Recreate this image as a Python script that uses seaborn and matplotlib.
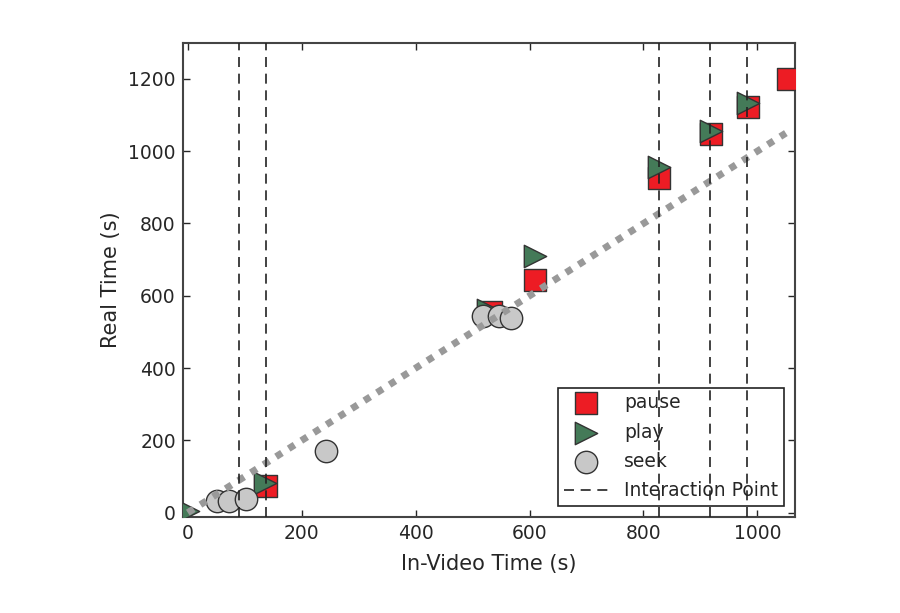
import matplotlib
matplotlib.use("Agg")
import matplotlib.pyplot as plt
import seaborn as sns
import pandas as pd

# ---- data ----
pause_x = [138, 533, 610, 828, 918, 983, 1053]
pause_y = [75, 554, 644, 927, 1047, 1122, 1201]
play_x = [0, 135, 527, 609, 828, 918, 983]
play_y = [4, 82, 562, 709, 955, 1056, 1132]
seek_x = [52, 73, 102, 242, 518, 546, 568]
seek_y = [31, 33, 39, 170, 544, 543, 539]
interaction_x = [89, 138, 828, 916, 982]
ideal_x = [0, 1050]
ideal_y = [0, 1050]
x_ticks = [0, 200, 400, 600, 800, 1000]
y_ticks = [0, 200, 400, 600, 800, 1000, 1200]

sns.set_style("ticks")
plt.rcParams["font.family"] = ["DejaVu Sans"]
text_color = "#262626"
plt.rcParams["text.color"] = text_color
plt.rcParams["axes.labelcolor"] = text_color
plt.rcParams["xtick.color"] = text_color
plt.rcParams["ytick.color"] = text_color

fig = plt.figure(figsize=(9.0, 6.13), dpi=100)
ax = fig.add_axes([0.203, 0.1566, 0.6803, 0.7737])

edge = "#333333"
ms = 260
pause_df = pd.DataFrame({"x": pause_x, "y": pause_y})
play_df = pd.DataFrame({"x": play_x, "y": play_y})
seek_df = pd.DataFrame({"x": seek_x, "y": seek_y})

sns.scatterplot(data=pause_df, x="x", y="y", ax=ax, marker="s", s=ms,
                color="#ED1C24", edgecolor=edge, linewidth=1, label="pause", zorder=3)
sns.scatterplot(data=play_df, x="x", y="y", ax=ax, marker=">", s=ms,
                color="#447A58", edgecolor=edge, linewidth=1, label="play", zorder=4)
sns.scatterplot(data=seek_df, x="x", y="y", ax=ax, marker="o", s=ms,
                color="#C8C8C8", edgecolor=edge, linewidth=1, label="seek", zorder=5)

ideal_df = pd.DataFrame({"x": ideal_x, "y": ideal_y})
sns.lineplot(data=ideal_df, x="x", y="y", ax=ax, color="#999999", linewidth=5,
             linestyle=(0, (1, 1.15)), zorder=6, legend=False)

for i, xv in enumerate(interaction_x):
    ax.axvline(xv, color="#222222", linewidth=1.2, linestyle=(0, (6, 4)),
               zorder=7, label="Interaction Point" if i == 0 else None)

ax.set_xlim(-9, 1066)
ax.set_ylim(-12, 1300)
ax.set_xticks(x_ticks)
ax.set_yticks(y_ticks)
ax.set_xlabel("In-Video Time (s)", fontsize=15, labelpad=8)
ax.set_ylabel("Real Time (s)", fontsize=15, labelpad=5)
ax.tick_params(axis="both", direction="in", length=5, width=1, labelsize=13.5,
               top=True, right=True, pad=5)
for sp in ax.spines.values():
    sp.set_color("#444444")
    sp.set_linewidth(1.5)
    sp.set_visible(True)

handles, labels = ax.get_legend_handles_labels()
order = ["pause", "play", "seek", "Interaction Point"]
hl = {l: h for h, l in zip(handles, labels)}
leg = ax.legend([hl[o] for o in order], order, loc="lower right", fontsize=13.5,
                frameon=True, fancybox=False, framealpha=1, edgecolor="#222222",
                handlelength=2.4, handletextpad=0.8, borderpad=0.3,
                labelspacing=0.55, borderaxespad=0.6, markerscale=1)
leg.get_frame().set_linewidth(1.2)

fig.savefig("out.png", dpi=100, facecolor="white")
